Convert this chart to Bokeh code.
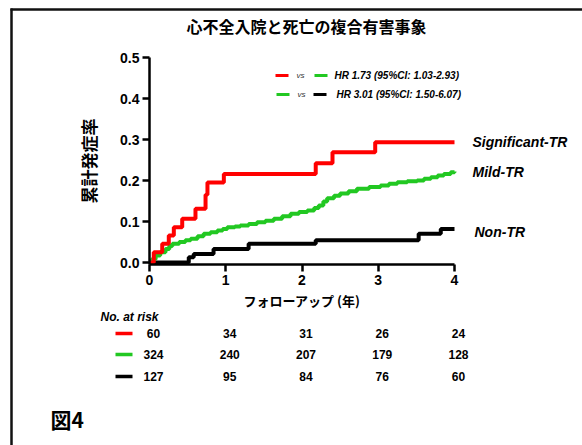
from bokeh.plotting import figure
from bokeh.models import Range1d, FixedTicker, NumeralTickFormatter
from bokeh.core.properties import value
from bokeh.embed import file_html
from bokeh.resources import INLINE

# ---------------- data ----------------
title_text = "心不全入院と死亡の複合有害事象"
y_label = "累計発症率"
x_label = "フォローアップ (年)"
x_ticks = [0, 1, 2, 3, 4]
y_ticks = [0.0, 0.1, 0.2, 0.3, 0.4, 0.5]

series_names = ["Significant-TR", "Mild-TR", "Non-TR"]
series_colors = ["#FF0000", "#22C822", "#000000"]

red_t = [0, 0.056, 0.167, 0.253, 0.319, 0.429, 0.603, 0.735, 0.76, 0.975, 2.18, 2.40, 2.96, 4.0]
red_v = [0, 0.025, 0.046, 0.066, 0.086, 0.107, 0.131, 0.165, 0.195, 0.216, 0.242, 0.269, 0.293, 0.293]

green_t = [0, 0.03, 0.08, 0.14, 0.21, 0.26, 0.30, 0.39, 0.47, 0.54,
           0.63, 0.71, 0.80, 0.89, 0.96, 1.02, 1.12, 1.19, 1.30, 1.41,
           1.52, 1.63, 1.74, 1.85, 1.96, 2.07, 2.16, 2.22, 2.28, 2.33,
           2.42, 2.50, 2.61, 2.72, 2.88, 3.03, 3.14, 3.25, 3.38, 3.51,
           3.60, 3.69, 3.78, 3.86, 3.95, 4.0]
green_v = [0, 0.008, 0.017, 0.025, 0.033, 0.040, 0.046, 0.050, 0.054, 0.058,
           0.064, 0.070, 0.074, 0.078, 0.082, 0.086, 0.088, 0.090, 0.094, 0.098,
           0.102, 0.107, 0.113, 0.119, 0.123, 0.127, 0.133, 0.139, 0.149, 0.157,
           0.163, 0.168, 0.174, 0.180, 0.184, 0.188, 0.192, 0.196, 0.198, 0.200,
           0.204, 0.208, 0.212, 0.216, 0.220, 0.222]

black_t = [0, 0.515, 0.58, 0.84, 1.30, 2.18, 3.53, 3.82, 4.0]
black_v = [0, 0.013, 0.021, 0.033, 0.046, 0.054, 0.070, 0.082, 0.082]

legend_rows = ["HR 1.73 (95%CI: 1.03-2.93)", "HR 3.01 (95%CI: 1.50-6.07)"]
legend_pairs = [("#FF0000", "#22C822"), ("#22C822", "#000000")]

risk_header = "No. at risk"
risk_times = [0, 1, 2, 3, 4]
risk_sig = [60, 34, 31, 26, 24]
risk_mild = [324, 240, 207, 179, 128]
risk_non = [127, 95, 84, 76, 60]
fig_label = "図4"

# ---------------- pixel geometry helpers ----------------
W, H = 582, 445
AX0, PXT = 149, 76.25    # canvas x of t=0, px per year
Y0, PXV = 262, 410       # canvas y of v=0, px per unit

def t_at(px):
    return (px - AX0) / PXT

def v_at(py):
    return (Y0 - py) / PXV

LATIN = value("Liberation Sans")
CJK = value("Noto Sans CJK JP")

p = figure(width=W, height=H, output_backend="svg", toolbar_location=None,
           x_range=Range1d(t_at(0), t_at(W)), y_range=Range1d(v_at(H), v_at(0)),
           min_border_left=0, min_border_right=0, min_border_top=0, min_border_bottom=0)
p.outline_line_color = None
p.grid.visible = False
p.background_fill_color = "white"
p.border_fill_color = "white"

for ax in (p.xaxis[0], p.yaxis[0]):
    ax.axis_line_width = 2.5
    ax.major_tick_line_width = 2.5
    ax.major_tick_out = 7
    ax.major_tick_in = 0
    ax.minor_tick_line_color = None
    ax.major_label_text_font = "Liberation Sans"
    ax.major_label_text_font_style = "bold"
    ax.major_label_text_font_size = "14px"
    ax.major_label_text_color = "black"
    ax.major_label_standoff = 3

AXIS_Y = v_at(264)
p.xaxis.fixed_location = AXIS_Y
p.xaxis.ticker = FixedTicker(ticks=x_ticks)
p.xaxis.bounds = (0, 4)
p.xaxis.axis_label = x_label
p.xaxis.axis_label_text_font = "Noto Sans CJK JP"
p.xaxis.axis_label_text_font_style = "bold"
p.xaxis.axis_label_text_font_size = "13px"
p.xaxis.axis_label_text_color = "black"
p.xaxis.axis_label_standoff = 3

p.yaxis.fixed_location = 0
p.yaxis.ticker = FixedTicker(ticks=y_ticks)
p.yaxis.formatter = NumeralTickFormatter(format="0.0")
p.yaxis.bounds = (AXIS_Y, 0.5)
p.yaxis.axis_label = y_label
p.yaxis.axis_label_text_font = "Noto Sans CJK JP"
p.yaxis.axis_label_text_font_style = "bold"
p.yaxis.axis_label_text_font_size = "17px"
p.yaxis.axis_label_text_color = "black"
p.yaxis.axis_label_standoff = 16

# outer frame lines (decoration)
p.segment(x0=[t_at(10)], y0=[v_at(9)], x1=[t_at(W)], y1=[v_at(9)], line_color="#111111", line_width=2.5)
p.segment(x0=[t_at(11)], y0=[v_at(8)], x1=[t_at(11)], y1=[v_at(H)], line_color="#111111", line_width=2.5)

# curves
curves = [(black_t, black_v, series_colors[2]),
          (green_t, green_v, series_colors[1]),
          (red_t, red_v, series_colors[0])]
for tt, vv, c in curves:
    p.step(tt, vv, mode="after", line_color=c, line_width=4)

# title
p.text(x=[t_at(306)], y=[v_at(25)], text=[title_text], text_font=CJK,
       text_font_size="16px", text_font_style="bold", text_align="center",
       text_baseline="middle", text_color="black")

# end labels
ends_v = [red_v[-1], green_v[-1], black_v[-1]]
p.text(x=[4, 4, 4], y=ends_v, text=series_names, x_offset=[18, 18, 20], y_offset=[0, 1, 3],
       text_font=LATIN, text_font_size="14px", text_font_style="bold italic",
       text_align="left", text_baseline="middle", text_color="black")

# HR legend
row_y = [v_at(75), v_at(94)]
for i, (txt, (c1, c2)) in enumerate(zip(legend_rows, legend_pairs)):
    y = row_y[i]
    p.segment(x0=[t_at(275 + i)], y0=[y], x1=[t_at(288 + i)], y1=[y], line_color=c1, line_width=3)
    p.segment(x0=[t_at(314 - i)], y0=[y], x1=[t_at(327 - i)], y1=[y], line_color=c2, line_width=3)
    p.text(x=[t_at(296 + i)], y=[y], text=["vs"], text_font=LATIN, text_font_size="8px",
           text_font_style="italic", text_baseline="middle", text_color="#333333")
    p.text(x=[t_at(334 + 2 * i)], y=[y], text=[txt], text_font=LATIN, text_font_size="10px",
           text_font_style="bold italic", text_baseline="middle", text_color="black")

# number at risk table
p.text(x=[t_at(100)], y=[v_at(316)], text=[risk_header], text_font=LATIN, text_font_size="12px",
       text_font_style="bold italic", text_baseline="middle", text_color="black")

rows = [(risk_sig, series_colors[0], 333), (risk_mild, series_colors[1], 354), (risk_non, series_colors[2], 376)]
for vals, c, py in rows:
    y = v_at(py)
    p.segment(x0=[t_at(115)], y0=[y], x1=[t_at(132)], y1=[y], line_color=c, line_width=3.5)
    p.text(x=risk_times, y=[y] * len(vals), text=[str(v) for v in vals], x_offset=4,
           text_font=LATIN, text_font_size="12px", text_font_style="bold",
           text_align="center", text_baseline="middle", text_color="black")

p.text(x=[t_at(50)], y=[v_at(418)], text=[fig_label], text_font=CJK, text_font_size="21px",
       text_font_style="bold", text_baseline="middle", text_color="black")

open("out.html", "w").write(file_html(p, INLINE))
